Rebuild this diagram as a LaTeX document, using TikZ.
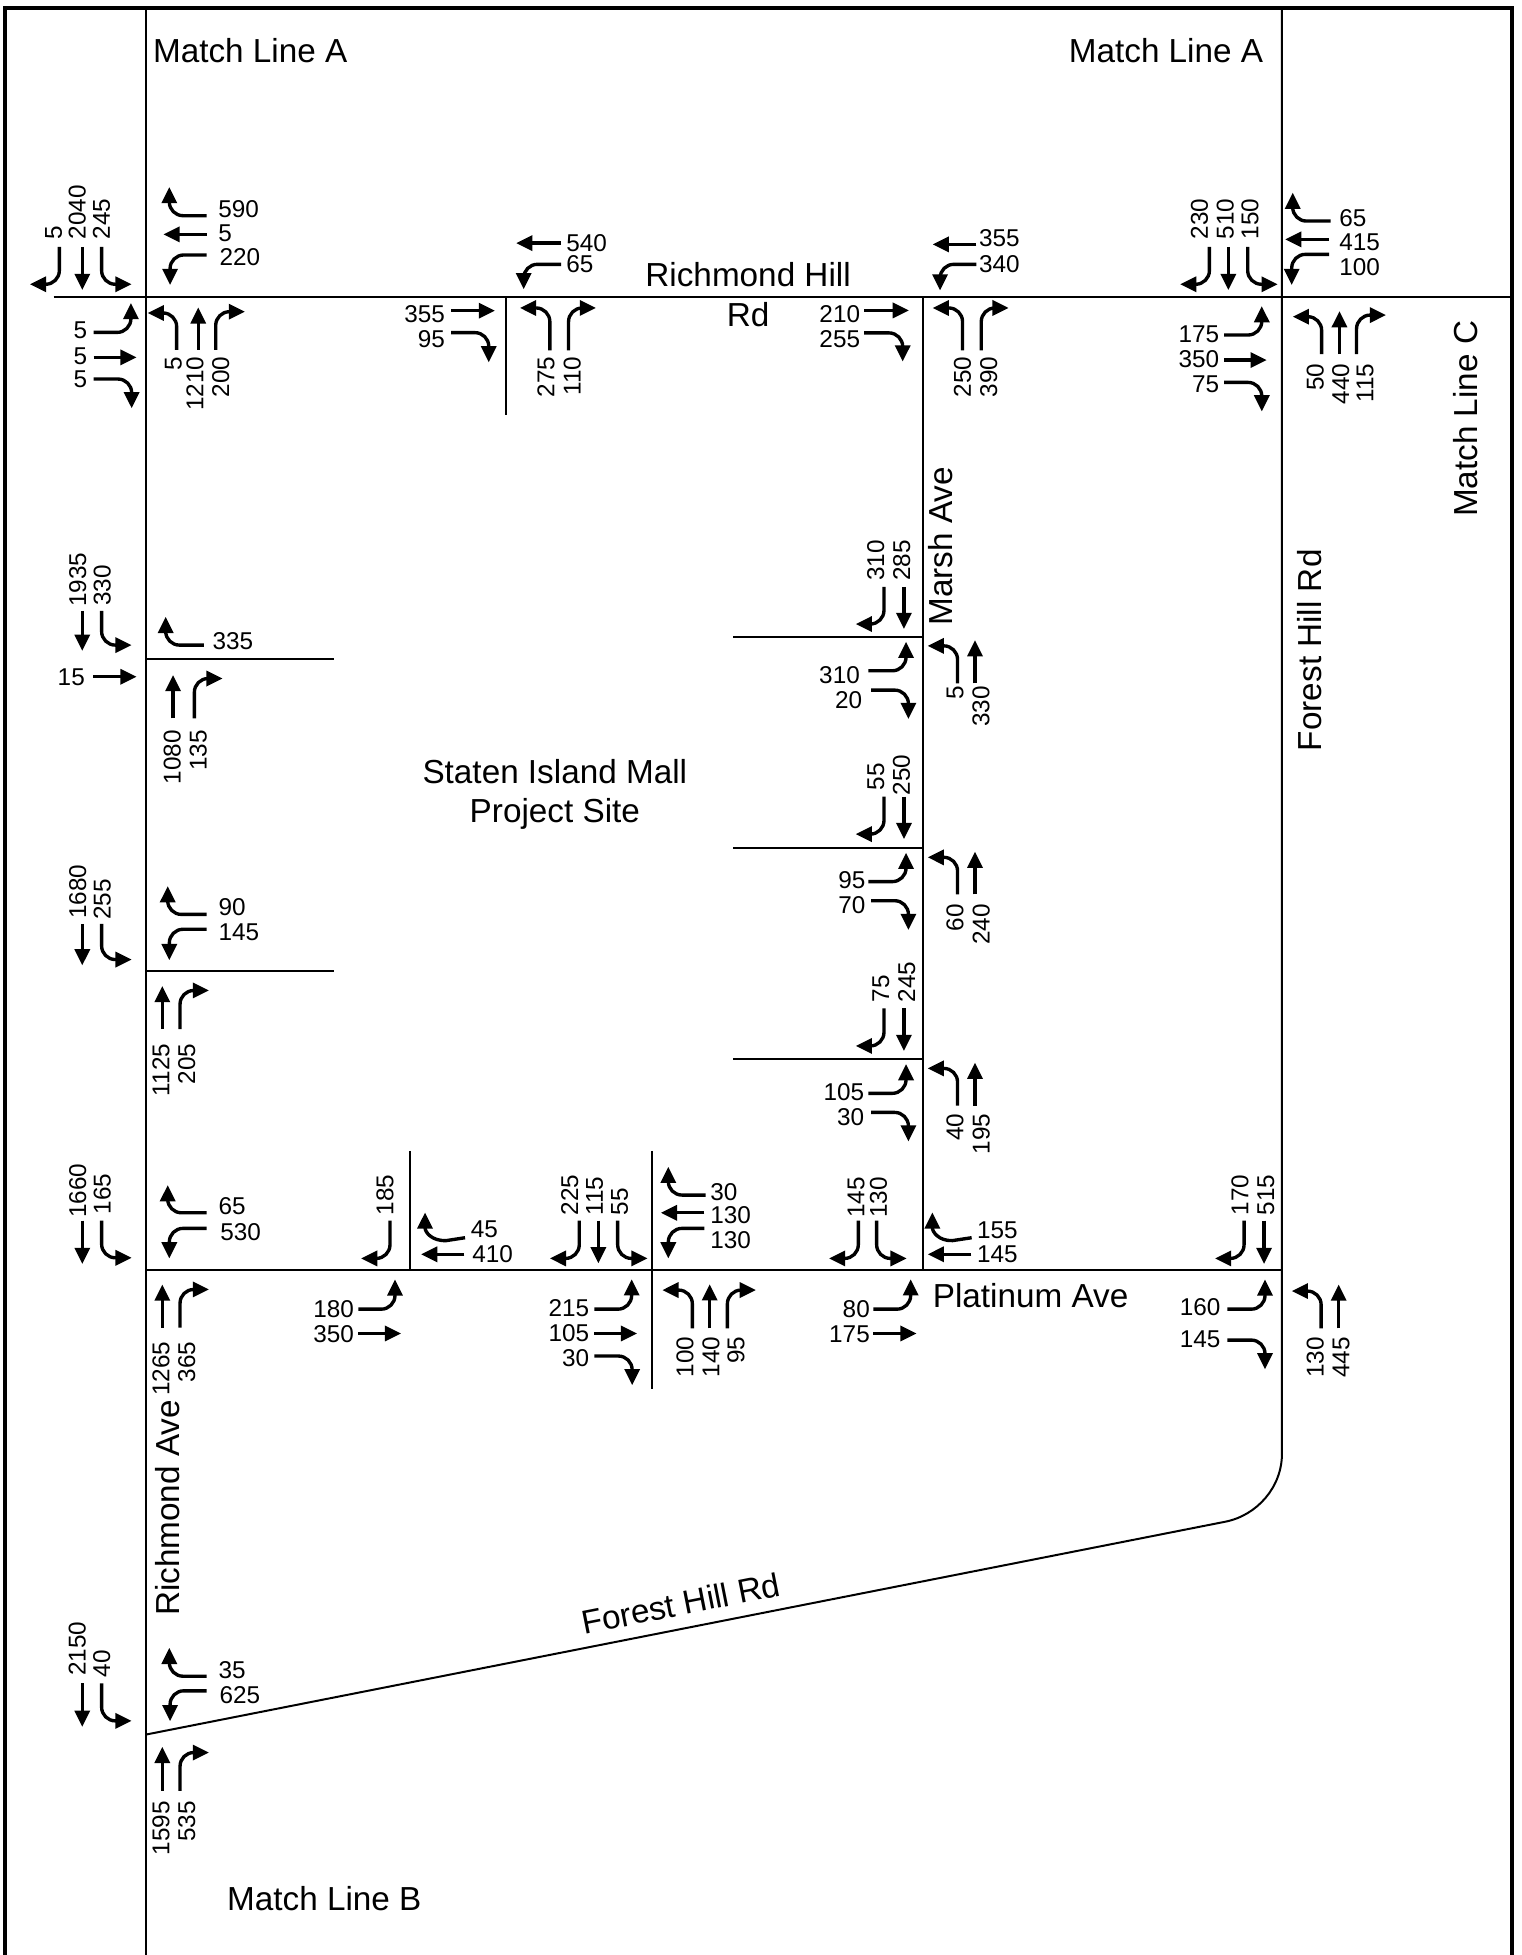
\documentclass[tikz,border=0pt]{standalone}
\usepackage{fontspec}
\setmainfont{Liberation Sans}
\usetikzlibrary{arrows.meta}
\newcounter{lab}
\tikzset{
  roadline/.style={line width=1.6pt,black},
  frameline/.style={line width=3.2pt,black},
  mvarrow/.style={line width=2.7pt,black,-{Triangle[length=13pt,width=12pt]}},
  mvturn/.style={mvarrow,rounded corners=11pt},
  numlabel/.style={inner sep=0pt,font=\fontsize{19.5}{22}\selectfont},
  roadname/.style={inner sep=0pt,font=\fontsize{26.7}{30}\selectfont}
}
% arrows: start x,y then end x,y
\newcommand{\armS}[4]{\draw[mvarrow] (#1,#2) -- (#3,#4);}
\newcommand{\armV}[4]{\draw[mvturn] (#1,#2) -- (#1,#4) -- (#3,#4);}
\newcommand{\armH}[4]{\draw[mvturn] (#1,#2) -- (#3,#2) -- (#3,#4);}
% labels
\newcommand{\lbL}[3]{\stepcounter{lab}\node[numlabel,anchor=west] (L\arabic{lab}) at (#1,#2) {#3};}
\newcommand{\lbR}[3]{\stepcounter{lab}\node[numlabel,anchor=east] (L\arabic{lab}) at (#1,#2) {#3};}
\newcommand{\lbU}[3]{\stepcounter{lab}\node[numlabel,rotate=90,anchor=west] (L\arabic{lab}) at (#1,#2) {#3};}
\newcommand{\lbD}[3]{\stepcounter{lab}\node[numlabel,rotate=90,anchor=east] (L\arabic{lab}) at (#1,#2) {#3};}
\begin{document}
\begin{tikzpicture}[x=1pt,y=-1pt]
\useasboundingbox (0,0) rectangle (1220,1568);
% frame and roads
\draw[frameline] (4.3,1568) -- (4.3,6.4) -- (1212.5,6.4) -- (1212.5,1568);
\draw[roadline] (117,6.4) -- (117,1568);
\draw[roadline] (1028.2,6.4) -- (1028.2,1165.7) .. controls (1028.2,1193) and (1008,1215.5) .. (982.6,1220.5) -- (117,1391.2);
\draw[roadline] (43,238) -- (1212.5,238);
\draw[roadline] (406,238) -- (406,333);
\draw[roadline] (740,238) -- (740,1018.7);
\draw[roadline] (117,1018.7) -- (1028.2,1018.7);
\draw[roadline] (117,528.7) -- (268.2,528.7);
\draw[roadline] (117,779) -- (268.2,779);
\draw[roadline] (588,511.2) -- (740,511.2);
\draw[roadline] (588,680.4) -- (740,680.4);
\draw[roadline] (588,849.7) -- (740,849.7);
\draw[roadline] (328.9,923) -- (328.9,1018.7);
\draw[roadline] (523,923) -- (523,1114);
% names
\node[roadname,anchor=base west] (mla1) at (122.6,50) {Match Line A};
\node[roadname,anchor=base east] (mla2) at (1013.3,50) {Match Line A};
\node[roadname,anchor=base west] (mlb) at (182,1532) {Match Line B};
\node[roadname,rotate=90] (mlc) at (1175.8,336) {Match Line C};
\node[roadname,anchor=base] (rh) at (600,230) {Richmond Hill};
\node[roadname,anchor=base] (rd) at (600,262) {Rd};
\node[roadname,anchor=base] (s1) at (445,628) {Staten Island Mall};
\node[roadname,anchor=base] (s2) at (445,660) {Project Site};
\node[roadname,anchor=base west] (pa) at (748,1049) {Platinum Ave};
\node[roadname,rotate=90] (ma) at (754.6,438) {Marsh Ave};
\node[roadname,rotate=90] (fh) at (1050,521.5) {Forest Hill Rd};
\node[roadname,rotate=90] (ra) at (134.6,1209.5) {Richmond Ave};
\node[roadname,rotate=11.2] (fd) at (546,1286) {Forest Hill Rd};
% Richmond Ave / Richmond Hill Rd
\armV{47.6}{198}{24}{228}\armS{66}{198}{66}{232.6}\armV{81.5}{198}{105.6}{228}
\lbU{43}{192}{5}\lbU{62}{192}{2040}\lbU{81.5}{192}{245}
\armH{165.8}{173}{135.8}{150}\armS{165.8}{188}{131}{188}\armH{165.8}{204.5}{136.4}{228.6}
\lbL{175}{168}{590}\lbL{175}{187}{5}\lbL{176}{206}{220}
\armH{75}{266.6}{105}{243}\armS{75}{286.6}{109.6}{286.6}\armH{75}{304}{105.6}{327.5}
\lbR{70}{265}{5}\lbR{70}{286}{5}\lbR{70}{304}{5}
\armV{141.7}{280.7}{118.4}{251}\armS{159}{280.7}{159}{246.5}\armV{173}{280.7}{196.5}{250}
\lbD{139}{286}{5}\lbD{156.4}{286}{1210}\lbD{177}{286}{200}
% x=406
\armS{361.8}{249.2}{397}{249.2}\armH{361.8}{266.8}{392}{290.6}
\lbR{357}{252}{355}\lbR{357}{272}{95}
\armS{450}{195}{414}{195}\armH{450}{212}{420}{232}
\lbL{454}{195}{540}\lbL{454}{212}{65}
\armV{441}{281}{417}{247}\armV{456}{281}{478}{247}
\lbD{438}{286}{275}\lbD{459}{286}{110}
% Marsh / Richmond Hill
\armS{693}{249}{729}{249}\armH{693}{267}{724}{290}
\lbR{690}{252}{210}\lbR{690}{272}{255}
\armS{783}{196}{748}{196}\armH{783}{212}{754}{233}
\lbL{785}{191}{355}\lbL{785}{212}{340}
\armV{772}{281}{748}{247}\armV{787}{281}{809}{247}
\lbD{772}{286}{250}\lbD{793}{286}{390}
% Forest Hill / Richmond Hill
\armV{970}{198}{946.5}{228}\armS{985.2}{198}{985.2}{232.6}\armV{1000.7}{198}{1024.8}{228}
\lbU{962}{192}{230}\lbU{982.6}{192}{510}\lbU{1002.6}{192}{150}
\armH{1067.3}{177.3}{1036.8}{154.5}\armS{1066}{192}{1030.7}{192}\armH{1066}{204}{1036}{228.6}
\lbL{1074}{175}{65}\lbL{1074}{194}{415}\lbL{1074}{214}{100}
\armH{981.8}{268.7}{1012}{245.5}\armS{981.8}{288.8}{1016}{288.8}\armH{981.8}{306.7}{1012}{330}
\lbR{978}{268}{175}\lbR{978}{288}{350}\lbR{978}{308}{75}
\armV{1060}{284}{1036.8}{254}\armS{1074.3}{284}{1074.3}{249.5}\armV{1088}{284}{1111.7}{252.7}
\lbD{1054.8}{291.4}{50}\lbD{1075.4}{291.4}{440}\lbD{1094.9}{291.4}{115}
% Left side, first site access
\armS{66}{490}{66}{522}\armV{81.5}{490}{105.6}{517.4}
\lbU{62.3}{487}{1935}\lbU{82}{486}{330}
\armH{163.6}{517.4}{132.9}{494.7}\lbL{170.3}{514.6}{335}
\lbR{68.2}{542.8}{15}\armS{74.9}{542.8}{109.6}{542.8}
\armS{138.8}{576.2}{138.8}{541.4}\armV{155.9}{576.2}{178.6}{544.2}
\lbD{138.2}{585.6}{1080}\lbD{159}{585.6}{135}
% second site access
\armS{66}{741}{66}{774.3}\armV{81.5}{741}{105.6}{769.6}
\lbU{62.3}{737}{1680}\lbU{82}{738}{255}
\armH{165.8}{733.4}{134.5}{710.7}\armH{165.8}{745.3}{135.8}{770.1}
\lbL{175.1}{727.3}{90}\lbL{175.1}{747.5}{145}
\armS{130.2}{825.4}{130.2}{790.8}\armV{144.4}{825.4}{167.6}{794.4}
\lbD{129.1}{837}{1125}\lbD{149.7}{837}{205}
% Richmond Ave / Platinum
\armS{66}{979}{66}{1013.8}\armV{81.5}{979}{105.6}{1008.8}
\lbU{62.3}{977}{1660}\lbU{82}{974}{165}
\armH{165.8}{972.7}{134.5}{950.5}\armH{165.8}{985.2}{135.8}{1009.3}
\lbL{175.1}{967.3}{65}\lbL{176.5}{987.9}{530}
\armS{130.2}{1064.9}{130.2}{1030.2}\armV{144.4}{1064.9}{167.6}{1034.2}
\lbD{129.1}{1076}{1265}\lbD{149.7}{1076}{365}
% x=329
\armV{312.8}{979}{289.6}{1009.3}\lbU{308.8}{975}{185}
\draw[mvarrow] (373,992.7) -- (358,995) .. controls (346,995.5) and (340.9,988) .. (340.9,972.4);
\armS{372.5}{1006}{337.7}{1006}
\lbL{377.5}{986}{45}\lbL{378.6}{1006}{410}
\armH{287.4}{1050}{316.8}{1026.1}\armS{287.4}{1069.5}{321.7}{1069.5}
\lbR{284}{1050}{180}\lbR{284}{1070}{350}
% x=523
\armV{464.6}{979}{441}{1009.3}\armS{479.9}{979}{479.9}{1013.3}\armV{495.4}{979}{519.4}{1009.3}
\lbU{457}{975}{225}\lbU{477}{975}{115}\lbU{497}{975}{55}
\armH{566}{958.5}{536}{935.8}\armS{565}{972.7}{530}{972.7}\armH{565}{985.2}{536}{1009.3}
\lbL{569.5}{955.8}{30}\lbL{569.5}{974.5}{130}\lbL{569.5}{995}{130}
\armH{476.7}{1050}{506.6}{1026}\armS{476.7}{1069.5}{511}{1069.5}\armH{476.7}{1087.6}{507}{1111}
\lbR{472.7}{1048.9}{215}\lbR{472.7}{1069.5}{105}\lbR{472.7}{1089.5}{30}
\armV{555.3}{1065.4}{531.2}{1034.7}\armS{569.2}{1065.4}{569.2}{1030}\armV{583.4}{1065.4}{606.3}{1034.7}
\lbD{549.4}{1072}{100}\lbD{570.2}{1072}{140}\lbD{590.3}{1072}{95}
% Marsh / Platinum
\armV{688.4}{979}{664.9}{1009.3}\armV{703.1}{979}{727.2}{1009.3}
\lbU{686.6}{977}{145}\lbU{704.5}{977}{130}
\armH{700.5}{1050}{730.4}{1026}\armS{700.5}{1069.5}{735.2}{1069.5}
\lbR{697.8}{1050}{80}\lbR{697.8}{1070}{175}
\draw[mvarrow] (779.3,992.7) -- (764,995) .. controls (753,995.5) and (747.8,988) .. (747.8,972.4);
\armS{779}{1006}{744}{1006}
\lbL{783.4}{987}{155}\lbL{783.4}{1006}{145}
% Marsh north access
\armV{709}{470.6}{686.3}{500.5}\armS{725}{470.6}{725}{504.5}
\lbU{702.4}{466}{310}\lbU{723.2}{466}{285}
\armH{696.5}{538}{726.7}{514.7}\armH{698.6}{553.5}{728.6}{576.7}
\lbR{689.8}{541.4}{310}\lbR{691.7}{561.5}{20}
\armV{768}{548}{744}{518}\armS{782}{548}{782}{513.4}
\lbD{766}{550.3}{5}\lbD{786.8}{550.3}{330}
% Marsh middle access
\armV{709}{639}{686.3}{669}\armS{725}{639}{725}{673}
\lbU{702.4}{634}{55}\lbU{723}{638}{250}
\armH{696.5}{707.1}{726.7}{683.9}\armH{698.6}{722.4}{728.6}{745.9}
\lbR{694.3}{705.8}{95}\lbR{694.3}{725.9}{70}
\armV{768}{717.3}{744}{687.6}\armS{782}{717.3}{782}{683}
\lbD{766}{725}{60}\lbD{787}{725}{240}
% Marsh south access
\armV{709}{808.7}{686.3}{838.9}\armS{725}{808.7}{725}{843}
\lbU{706.4}{804}{75}\lbU{727.2}{804.2}{245}
\armH{696.5}{876.9}{726.7}{853.4}\armH{698.6}{892.2}{728.6}{915.6}
\lbR{693.3}{875.6}{105}\lbR{693.3}{896.2}{30}
\armV{768}{886.8}{744}{856.9}\armS{782}{886.8}{782}{852.3}
\lbD{766}{893}{40}\lbD{787}{893}{195}
% Forest Hill / Platinum
\armV{997.8}{979}{974.5}{1009.3}\armS{1013.8}{979}{1013.8}{1013.8}
\lbU{994.6}{975}{170}\lbU{1015.2}{975}{515}
\armH{984.4}{1050}{1014.6}{1026.1}\armH{984.4}{1074.8}{1014.6}{1098.3}
\lbR{979}{1048.6}{160}\lbR{979}{1074.3}{145}
\armV{1059.6}{1065.4}{1036}{1035.5}\armS{1073.7}{1065.4}{1073.7}{1030.2}
\lbD{1054.8}{1072.1}{130}\lbD{1075.6}{1072.1}{445}
% Richmond Ave / Forest Hill Rd
\armS{66}{1350.2}{66}{1385}\armV{81.5}{1350.2}{105.6}{1380.2}
\lbU{62}{1344.1}{2150}\lbU{81.6}{1345.4}{40}
\armH{165.8}{1344.4}{135.8}{1321.6}\armH{165.8}{1356.1}{136.4}{1380.5}
\lbL{175.1}{1339.6}{35}\lbL{176}{1359.6}{625}
\armS{130.2}{1436.3}{130.2}{1401}\armV{144.4}{1436.3}{167.6}{1405.6}
\lbD{129.1}{1444.4}{1595}\lbD{149.7}{1444.4}{535}
\end{tikzpicture}
\end{document}
